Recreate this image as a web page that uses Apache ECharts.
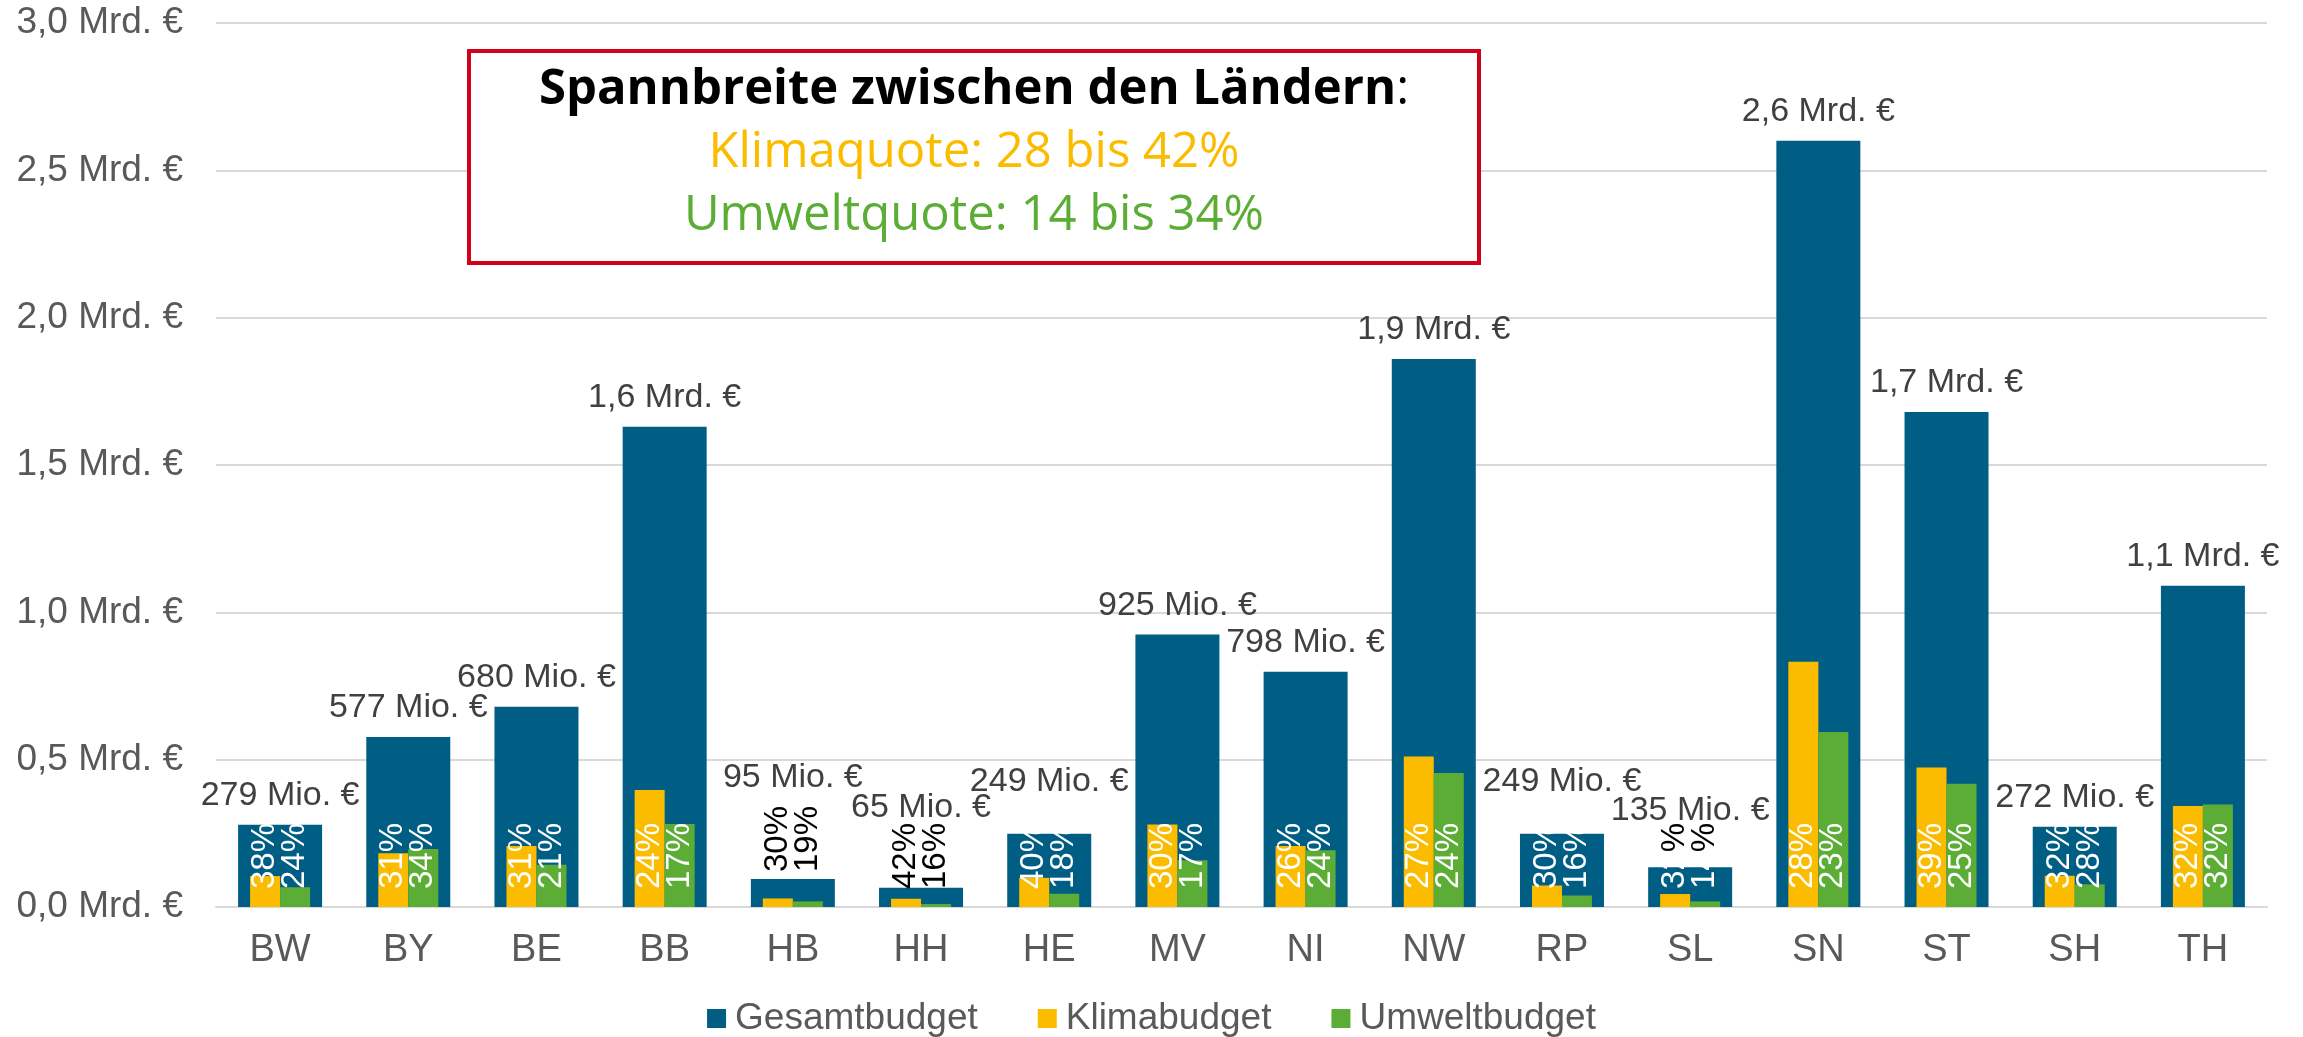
<!DOCTYPE html>
<html>
<head>
<meta charset="utf-8">
<title>Budgets der Länder</title>
<script src="https://cdn.jsdelivr.net/npm/echarts@6/dist/echarts.min.js"></script>
<style>
  html, body { margin: 0; padding: 0; background: #fff; }
  #chart { width: 2303px; height: 1037px; }
</style>
</head>
<body>
<div id="chart"></div>
<script>
// Länderkürzel (x-Achse)
const laender = ['BW', 'BY', 'BE', 'BB', 'HB', 'HH', 'HE', 'MV', 'NI', 'NW', 'RP', 'SL', 'SN', 'ST', 'SH', 'TH'];
// Gesamtbudget in Mrd. €
const gesamtbudget = [0.279, 0.577, 0.680, 1.63, 0.095, 0.065, 0.249, 0.925, 0.798, 1.86, 0.249, 0.135, 2.6, 1.68, 0.272, 1.09];
const gesamtLabels = ['279 Mio. €', '577 Mio. €', '680 Mio. €', '1,6 Mrd. €', '95 Mio. €', '65 Mio. €', '249 Mio. €', '925 Mio. €',
  '798 Mio. €', '1,9 Mrd. €', '249 Mio. €', '135 Mio. €', '2,6 Mrd. €', '1,7 Mrd. €', '272 Mio. €', '1,1 Mrd. €'];
// Klima- und Umweltbudget in Mrd. €
const klimabudget = [0.105, 0.182, 0.207, 0.397, 0.029, 0.028, 0.099, 0.280, 0.207, 0.511, 0.073, 0.044, 0.832, 0.473, 0.106, 0.343];
const umweltbudget = [0.067, 0.197, 0.143, 0.282, 0.019, 0.010, 0.045, 0.159, 0.193, 0.455, 0.039, 0.019, 0.594, 0.418, 0.077, 0.348];
// Quoten als Beschriftung
const klimaquote = ['38%', '31%', '31%', '24%', '30%', '42%', '40%', '30%', '26%', '27%', '30%', '32%', '28%', '39%', '32%', '32%'];
const umweltquote = ['24%', '34%', '21%', '17%', '19%', '16%', '18%', '17%', '24%', '24%', '16%', '14%', '23%', '25%', '28%', '32%'];
// y-Achse in Mrd. €
const yTicks = [0, 0.5, 1.0, 1.5, 2.0, 2.5, 3.0];

const FONT = 'Liberation Sans, Arial, sans-serif';
const BOXFONT = 'Open Sans';
const farben = { gesamt: '#005E84', klima: '#FBBC00', umwelt: '#5BAD35' };

// Label-Abstände über den Gesamtbalken (manuell verschoben im Original)
const gesamtLabelAbstand = { HB: 84, HH: 63, SL: 40, HE: 35, RP: 35 };

const chart = echarts.init(document.getElementById('chart'));

// Quoten-Labels: bei kleinen Balken schwarz bzw. geteilt
function quoteItem(value, text, land) {
  const label = {};
  if (land === 'HB') {
    label.color = '#000';
    label.distance = 35;
  } else if (land === 'HH') {
    label.color = '#000';
  } else if (land === 'SL') {
    label.formatter = '{w|' + text.slice(0, -1) + '}{s|%}';
  }
  return { value: value, label: label };
}

const quoteLabel = (texte) => ({
  show: true,
  position: 'insideBottom',
  rotate: 90,
  align: 'left',
  verticalAlign: 'middle',
  distance: 18,
  fontSize: 33,
  fontFamily: FONT,
  color: '#fff',
  formatter: (p) => texte[p.dataIndex],
  rich: {
    w: { color: '#fff', fontSize: 33, fontFamily: FONT },
    s: { color: '#000', fontSize: 33, fontFamily: FONT }
  }
});

const option = {
  animation: false,
  backgroundColor: '#fff',
  grid: { left: 216, right: 36, top: 23, bottom: 130, containLabel: false },
  legend: {
    data: ['Gesamtbudget', 'Klimabudget', 'Umweltbudget'],
    left: 'center',
    top: 995,
    icon: 'rect',
    itemWidth: 19,
    itemHeight: 19,
    itemGap: 60,
    textStyle: { fontSize: 37, color: '#595959', fontFamily: FONT, padding: [0, 0, 0, 4] }
  },
  xAxis: [
    {
      type: 'category',
      data: laender,
      axisLine: { lineStyle: { color: '#D9D9D9', width: 2 } },
      axisTick: { show: false },
      axisLabel: { fontSize: 38, color: '#595959', fontFamily: FONT, margin: 25 }
    },
    { type: 'category', data: laender, show: false }
  ],
  yAxis: {
    type: 'value',
    min: yTicks[0],
    max: yTicks[yTicks.length - 1],
    interval: yTicks[1] - yTicks[0],
    axisLine: { show: false },
    axisTick: { show: false },
    splitLine: { lineStyle: { color: '#D9D9D9', width: 2 } },
    axisLabel: {
      fontSize: 37,
      color: '#595959',
      fontFamily: FONT,
      margin: 33,
      formatter: (v) => v.toFixed(1).replace('.', ',') + ' Mrd. €'
    }
  },
  series: [
    {
      name: 'Gesamtbudget',
      type: 'bar',
      xAxisIndex: 0,
      barWidth: 84,
      itemStyle: { color: farben.gesamt },
      data: gesamtbudget.map((v, i) => ({
        value: v,
        label: gesamtLabelAbstand[laender[i]] ? { distance: gesamtLabelAbstand[laender[i]] } : {}
      })),
      label: {
        show: true,
        position: 'top',
        distance: 12,
        fontSize: 34,
        color: '#404040',
        fontFamily: FONT,
        formatter: (p) => gesamtLabels[p.dataIndex]
      },
      z: 2
    },
    {
      name: 'Klimabudget',
      type: 'bar',
      xAxisIndex: 1,
      barWidth: 30,
      barGap: 0,
      itemStyle: { color: farben.klima },
      data: klimabudget.map((v, i) => quoteItem(v, klimaquote[i], laender[i])),
      label: quoteLabel(klimaquote),
      z: 3
    },
    {
      name: 'Umweltbudget',
      type: 'bar',
      xAxisIndex: 1,
      barWidth: 30,
      barGap: 0,
      itemStyle: { color: farben.umwelt },
      data: umweltbudget.map((v, i) => quoteItem(v, umweltquote[i], laender[i])),
      label: quoteLabel(umweltquote),
      z: 3
    }
  ],
  // Infobox oben
  graphic: [
    {
      type: 'rect',
      z: 100,
      shape: { x: 469, y: 51, width: 1010, height: 212 },
      style: { fill: '#fff', stroke: '#D0021B', lineWidth: 4 }
    },
    {
      type: 'text',
      z: 101,
      x: 974,
      y: 90,
      style: {
        text: '{b|Spannbreite zwischen den Ländern}{n|:}',
        align: 'center',
        verticalAlign: 'middle',
        rich: {
          b: { fontSize: 49, fontWeight: 'bold', fontFamily: BOXFONT, fill: '#000' },
          n: { fontSize: 49, fontFamily: BOXFONT, fill: '#000' }
        }
      }
    },
    {
      type: 'text',
      z: 101,
      x: 974,
      y: 153,
      style: {
        text: 'Klimaquote: 28 bis 42%',
        align: 'center',
        verticalAlign: 'middle',
        fontSize: 49,
        fontFamily: BOXFONT,
        fill: '#FBBC00'
      }
    },
    {
      type: 'text',
      z: 101,
      x: 974,
      y: 216,
      style: {
        text: 'Umweltquote: 14 bis 34%',
        align: 'center',
        verticalAlign: 'middle',
        fontSize: 49,
        fontFamily: BOXFONT,
        fill: '#5BAD35'
      }
    }
  ]
};

chart.setOption(option);
</script>
</body>
</html>
